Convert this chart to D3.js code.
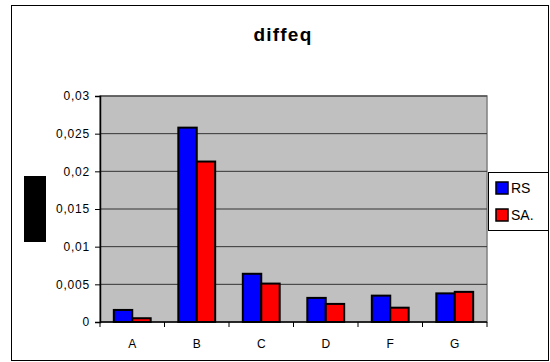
<!DOCTYPE html>
<html lang="en">
<head>
	<meta charset="UTF-8">
	<title>diffeq</title>
	<script src="https://d3js.org/d3.v7.min.js"></script>
	<style>
		body { margin: 0; background: #fff; }
		svg text { font-family: "Liberation Sans", Arial, sans-serif; }
	</style>
</head>
<body>
<div id="chart"></div>
<script>

	// data
	var categories = ["A", "B", "C", "D", "F", "G"];
	var seriesNames = ["RS", "SA."];
	var rsValues = [0.0016, 0.0258, 0.0064, 0.0032, 0.0035, 0.0038];
	var saValues = [0.0005, 0.0213, 0.0051, 0.0024, 0.0019, 0.0040];
	var yTicks = [0, 0.005, 0.01, 0.015, 0.02, 0.025, 0.03];
	var colors = ["#0000ff", "#ff0000"];

	var w = 550;
	var h = 362;
	var plot = { left: 100, right: 487, top: 96, bottom: 322 };

	var svg = d3.select("#chart").append("svg")
		.attr("width", w)
		.attr("height", h);

	// outer frame
	svg.append("rect")
		.attr("x", 11.5).attr("y", 5.5)
		.attr("width", 537).attr("height", 355)
		.attr("fill", "#fff")
		.attr("stroke", "#000")
		.attr("stroke-width", 1);

	// title
	svg.append("text")
		.attr("x", 283).attr("y", 41)
		.attr("text-anchor", "middle")
		.attr("font-size", "19px")
		.attr("font-weight", "bold")
		.attr("letter-spacing", "1.2px")
		.text("diffeq");

	var x = d3.scaleBand()
		.domain(categories)
		.range([plot.left, plot.right]);

	var x1 = d3.scaleBand()
		.domain(seriesNames)
		.range([0, x.bandwidth()])
		.paddingOuter(0.75);

	var y = d3.scaleLinear()
		.domain([0, 0.03])
		.range([plot.bottom, plot.top]);

	// plot area
	svg.append("rect")
		.attr("x", plot.left).attr("y", plot.top)
		.attr("width", plot.right - plot.left)
		.attr("height", plot.bottom - plot.top)
		.attr("fill", "#c0c0c0")
		.attr("stroke", "#808080")
		.attr("stroke-width", 1.5);

	// gridlines
	svg.append("g").selectAll("line")
		.data(yTicks.slice(1))
		.enter().append("line")
		.attr("x1", plot.left).attr("x2", plot.right)
		.attr("y1", function (d) { return y(d); })
		.attr("y2", function (d) { return y(d); })
		.attr("stroke", "#333")
		.attr("stroke-width", 1);

	// bars
	var rows = categories.map(function (c, i) {
		return { cat: c, vals: [rsValues[i], saValues[i]] };
	});

	var groups = svg.append("g").selectAll("g")
		.data(rows)
		.enter().append("g")
		.attr("transform", function (d) { return "translate(" + x(d.cat) + ",0)"; });

	groups.selectAll("rect")
		.data(function (d) {
			return d.vals.map(function (v, j) { return { name: seriesNames[j], v: v, j: j }; });
		})
		.enter().append("rect")
		.attr("x", function (d) { return x1(d.name); })
		.attr("y", function (d) { return y(d.v); })
		.attr("width", x1.bandwidth())
		.attr("height", function (d) { return y(0) - y(d.v); })
		.attr("fill", function (d) { return colors[d.j]; })
		.attr("stroke", "#000")
		.attr("stroke-width", 2);

	// y axis
	var yAxis = svg.append("g")
		.attr("transform", "translate(" + plot.left + ",0)")
		.call(d3.axisLeft(y)
			.tickValues(yTicks)
			.tickSize(5)
			.tickPadding(5)
			.tickFormat(function (d) { return String(d).replace(".", ","); }));
	yAxis.select(".domain").attr("stroke", "#000").attr("stroke-width", 1.5);
	yAxis.selectAll("text").attr("font-size", "12px").attr("fill", "#000")
		.attr("letter-spacing", "0.8px")
		.attr("font-family", "'Liberation Sans', Arial, sans-serif");

	// x axis, ticks between categories
	var xAxis = svg.append("g")
		.attr("transform", "translate(0," + plot.bottom + ")");
	xAxis.append("line")
		.attr("x1", plot.left).attr("x2", plot.right)
		.attr("stroke", "#000").attr("stroke-width", 1.5);
	xAxis.selectAll("line.tick")
		.data(categories.concat(["end"]))
		.enter().append("line")
		.attr("class", "tick")
		.attr("x1", function (d, i) { return i < categories.length ? x(d) : plot.right; })
		.attr("x2", function (d, i) { return i < categories.length ? x(d) : plot.right; })
		.attr("y1", 0).attr("y2", 5)
		.attr("stroke", "#000");
	xAxis.selectAll("text")
		.data(categories)
		.enter().append("text")
		.attr("x", function (d) { return x(d) + x.bandwidth() / 2; })
		.attr("y", 26)
		.attr("text-anchor", "middle")
		.attr("font-size", "12px")
		.text(function (d) { return d; });

	// the black box where the axis title was
	svg.append("rect")
		.attr("x", 24).attr("y", 176)
		.attr("width", 22).attr("height", 66)
		.attr("fill", "#000");

	// legend
	var legend = svg.append("g").attr("transform", "translate(488,172)");
	legend.append("rect")
		.attr("x", 0.5).attr("y", 0.5)
		.attr("width", 60).attr("height", 58)
		.attr("fill", "#fff")
		.attr("stroke", "#000");
	var items = legend.selectAll("g")
		.data(seriesNames)
		.enter().append("g")
		.attr("transform", function (d, i) { return "translate(0," + (i * 27) + ")"; });
	items.append("rect")
		.attr("x", 8).attr("y", 10)
		.attr("width", 12).attr("height", 12)
		.attr("fill", function (d, i) { return colors[i]; })
		.attr("stroke", "#000")
		.attr("stroke-width", 1.5);
	items.append("text")
		.attr("x", 23).attr("y", 21)
		.attr("font-size", "14px")
		.text(function (d) { return d; });

</script>
</body>
</html>
